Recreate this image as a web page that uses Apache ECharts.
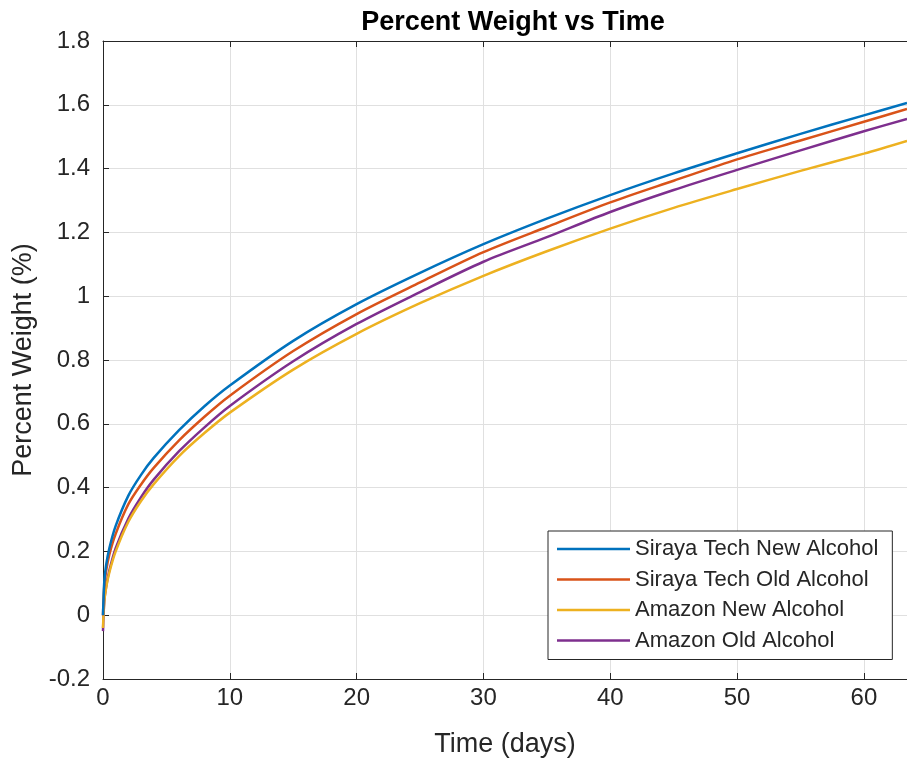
<!DOCTYPE html>
<html><head><meta charset="utf-8">
<script src="https://cdn.jsdelivr.net/npm/echarts@6/dist/echarts.min.js"></script>
<style>html,body{margin:0;padding:0;background:#fff}#c{width:907px;height:759px}</style>
</head><body><div id="c"></div>
<script>
const timeDays = [0, 0.1, 0.25, 0.5, 1, 2, 3, 4, 6, 8, 10, 15, 20, 25, 30, 35, 40, 45, 50, 55, 60, 63.4];
const sirayaNew = [0, 0.105, 0.158, 0.21, 0.28, 0.375, 0.44, 0.493, 0.58, 0.655, 0.72, 0.86, 0.975, 1.073, 1.163, 1.243, 1.317, 1.385, 1.448, 1.509, 1.567, 1.606];
const sirayaOld = [0, 0.09, 0.14, 0.19, 0.255, 0.348, 0.41, 0.462, 0.548, 0.622, 0.688, 0.828, 0.944, 1.043, 1.138, 1.217, 1.294, 1.362, 1.429, 1.488, 1.547, 1.587];
const amazonNew = [-0.04, 0.043, 0.087, 0.134, 0.2, 0.293, 0.358, 0.411, 0.499, 0.571, 0.635, 0.77, 0.882, 0.978, 1.064, 1.141, 1.212, 1.277, 1.336, 1.393, 1.447, 1.487];
const amazonOld = [-0.05, 0.043, 0.09, 0.14, 0.21, 0.303, 0.37, 0.425, 0.514, 0.589, 0.656, 0.796, 0.913, 1.013, 1.108, 1.185, 1.264, 1.333, 1.396, 1.457, 1.517, 1.556];
const seriesNames = ['Siraya Tech New Alcohol', 'Siraya Tech Old Alcohol', 'Amazon New Alcohol', 'Amazon Old Alcohol'];
const seriesColors = ['#0072BD', '#D95319', '#EDB120', '#7E2F8E'];
const xTicks = [0, 10, 20, 30, 40, 50, 60];
const yTicks = [-0.2, 0, 0.2, 0.4, 0.6, 0.8, 1, 1.2, 1.4, 1.6, 1.8];

const FONT = 'Liberation Sans, Arial, Helvetica, sans-serif';
const TXT = '#262626';
const allY = [sirayaNew, sirayaOld, amazonNew, amazonOld];
const chart = echarts.init(document.getElementById('c'), null, {renderer: 'canvas'});
const fmtY = v => {
  const r = Math.round(v * 10) / 10;
  return yTicks.some(t => Math.abs(t - r) < 1e-9) ? String(r) : '';
};
const fmtX = v => xTicks.indexOf(Math.round(v * 1000) / 1000) >= 0 ? String(Math.round(v)) : '';
chart.setOption({
  animation: false,
  backgroundColor: '#fff',
  textStyle: {fontFamily: FONT},
  title: {
    text: 'Percent Weight vs Time', left: 508, top: 4, textAlign: 'center',
    textStyle: {fontFamily: FONT, fontWeight: 'bold', fontSize: 27, color: '#000'}
  },
  grid: {left: 103, right: 0, top: 41, bottom: 80, containLabel: false, outerBoundsMode: 'none'},
  legend: {
    orient: 'vertical', left: 548, top: 531,
    data: seriesNames, icon: 'rect',
    backgroundColor: '#fff', borderColor: TXT, borderWidth: 1,
    padding: [7, 14, 8, 9], itemWidth: 73, itemHeight: 2.5, itemGap: 8.5,
    textStyle: {fontFamily: FONT, fontSize: 22, color: TXT}
  },
  xAxis: [{
    type: 'value', min: 0, max: 63.4, interval: 10,
    name: 'Time (days)', nameLocation: 'middle', nameGap: 52,
    nameTextStyle: {fontFamily: FONT, fontSize: 27, color: TXT},
    axisLine: {show: true, onZero: false, lineStyle: {color: TXT, width: 1}},
    axisTick: {show: true, inside: true, length: 6, lineStyle: {color: TXT}},
    axisLabel: {fontFamily: FONT, fontSize: 24, color: TXT, margin: 7, formatter: fmtX, showMaxLabel: false},
    splitLine: {show: true, lineStyle: {color: '#e0e0e0', width: 1}}
  }, {
    type: 'value', position: 'top', min: 0, max: 63.4, interval: 10,
    axisLine: {show: true, onZero: false, lineStyle: {color: TXT, width: 1}},
    axisTick: {show: true, inside: true, length: 6, lineStyle: {color: TXT}},
    axisLabel: {show: false}, splitLine: {show: false}
  }],
  yAxis: [{
    type: 'value', min: -0.2, max: 1.8, interval: 0.2,
    name: 'Percent Weight (%)', nameLocation: 'middle', nameGap: 66,
    nameTextStyle: {fontFamily: FONT, fontSize: 27, color: TXT},
    axisLine: {show: true, onZero: false, lineStyle: {color: TXT, width: 1}},
    axisTick: {show: true, inside: true, length: 6, lineStyle: {color: TXT}},
    axisLabel: {fontFamily: FONT, fontSize: 24, color: TXT, margin: 13, formatter: fmtY},
    splitLine: {show: true, lineStyle: {color: '#e0e0e0', width: 1}}
  }],
  series: seriesNames.map((n, i) => ({
    name: n, type: 'line', symbol: 'none', showSymbol: false, smooth: 0.3,
    lineStyle: {color: seriesColors[i], width: 2.5},
    itemStyle: {color: seriesColors[i]},
    z: 10 - i,
    data: timeDays.map((t, k) => [t, allY[i][k]])
  }))
});
</script></body></html>
